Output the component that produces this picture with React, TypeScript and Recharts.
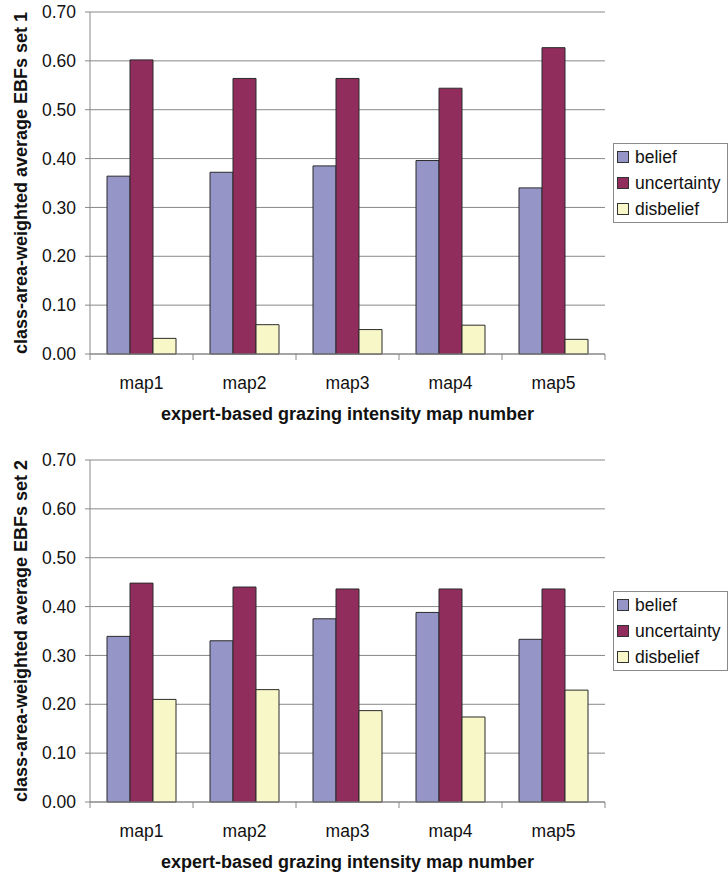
import React from 'react';
import { BarChart, Bar, XAxis, YAxis, CartesianGrid, Legend, Label } from 'recharts';

// Map categories and the three evidential belief function components per set
const categories = ['map1', 'map2', 'map3', 'map4', 'map5'];

const set1Belief = [0.364, 0.372, 0.385, 0.396, 0.340];
const set1Uncertainty = [0.602, 0.564, 0.564, 0.544, 0.627];
const set1Disbelief = [0.032, 0.060, 0.050, 0.059, 0.030];

const set2Belief = [0.339, 0.330, 0.375, 0.388, 0.333];
const set2Uncertainty = [0.448, 0.440, 0.436, 0.436, 0.436];
const set2Disbelief = [0.210, 0.230, 0.187, 0.174, 0.229];

const yTicks = [0, 0.1, 0.2, 0.3, 0.4, 0.5, 0.6, 0.7];

const seriesNames = ['belief', 'uncertainty', 'disbelief'];
const seriesColors = ['#9595C8', '#902D5D', '#F8F7C8'];

const xTitle = 'expert-based grazing intensity map number';

const FONT = '"Liberation Sans", Arial, sans-serif';
const AXIS = '#888888';
const FRAME = '#c8c8c8';
const FS = 17.5;
const TITLE_FS = 18;

type Row = { name: string; belief: number; uncertainty: number; disbelief: number };

const buildRows = (b: number[], u: number[], d: number[]): Row[] =>
  categories.map((name, i) => ({ name, belief: b[i], uncertainty: u[i], disbelief: d[i] }));

const CategoryTick = (props: any) => {
  const { x, y, payload } = props;
  const half = payload && typeof payload.offset === 'number' && payload.offset > 0 ? payload.offset : 51.5;
  const isLast = payload.value === categories[categories.length - 1];
  return (
    <g>
      <line x1={x - half} x2={x - half} y1={y} y2={y + 6} stroke={AXIS} strokeWidth={1} />
      {isLast && <line x1={x + half} x2={x + half} y1={y} y2={y + 6} stroke={AXIS} strokeWidth={1} />}
      <text x={x} y={y + 35} textAnchor="middle" fontFamily={FONT} fontSize={FS} fill="#111">
        {payload.value}
      </text>
    </g>
  );
};

const LegendBox = () => (
  <div
    style={{
      border: '1px solid #8a8a8a',
      background: '#fff',
      height: 80,
      boxSizing: 'border-box',
      fontFamily: FONT,
      fontSize: FS,
      color: '#111',
    }}
  >
    {seriesNames.map((n, i) => (
      <div key={n} style={{ height: 26, display: 'flex', alignItems: 'center' }}>
        <span
          style={{
            display: 'inline-block',
            width: 12,
            height: 12,
            boxSizing: 'border-box',
            border: '1px solid #333',
            background: seriesColors[i],
            marginLeft: 3,
            marginRight: 6,
          }}
        />
        <span style={{ whiteSpace: 'nowrap' }}>{n}</span>
      </div>
    ))}
  </div>
);

type PanelProps = {
  rows: Row[];
  yTitle: string;
  height: number;
  top: number;
  bottom: number;
};

const PLOT_H = 342;

const Panel = ({ rows, yTitle, height, top, bottom }: PanelProps) => (
  <BarChart
    width={728}
    height={height}
    data={rows}
    margin={{ top, right: 0, bottom, left: 0 }}
    barGap={0}
    barSize={23}
  >
    <CartesianGrid vertical={false} stroke={AXIS} strokeWidth={1} />
    <XAxis
      dataKey="name"
      height={75}
      axisLine={{ stroke: AXIS }}
      tickLine={false}
      tickSize={0}
      tickMargin={0}
      tick={<CategoryTick />}
      interval={0}
    >
      <Label
        content={(p: any) => {
          const vb = p.viewBox || {};
          return (
            <text
              x={vb.x + vb.width / 2}
              y={vb.y + 66}
              textAnchor="middle"
              fontFamily={FONT}
              fontSize={TITLE_FS}
              fontWeight="bold"
              fill="#111"
            >
              {xTitle}
            </text>
          );
        }}
      />
    </XAxis>
    <XAxis xAxisId="frame" dataKey="name" orientation="top" height={0} tick={false} tickLine={false} axisLine={{ stroke: FRAME }} />
    <YAxis
      type="number"
      domain={[0, 0.7]}
      ticks={yTicks}
      width={90}
      axisLine={{ stroke: AXIS }}
      tickLine={{ stroke: AXIS }}
      tickSize={5}
      tickMargin={9}
      tickFormatter={(v: number) => v.toFixed(2)}
      tick={{ fontFamily: FONT, fontSize: FS, fill: '#111' }}
    >
      <Label
        content={(p: any) => {
          const vb = p.viewBox || {};
          const cx = 27;
          const cy = vb.y + vb.height / 2;
          return (
            <text
              x={cx}
              y={cy}
              transform={`rotate(-90 ${cx} ${cy})`}
              textAnchor="middle"
              fontFamily={FONT}
              fontSize={TITLE_FS}
              fontWeight="bold"
              fill="#111"
            >
              {yTitle}
            </text>
          );
        }}
      />
    </YAxis>
    <YAxis
      yAxisId="frame"
      type="number"
      domain={[0, 0.7]}
      orientation="right"
      width={0}
      tick={false}
      tickLine={false}
      axisLine={{ stroke: FRAME }}
    />
    <Legend
      layout="vertical"
      align="right"
      verticalAlign="top"
      content={() => <LegendBox />}
      wrapperStyle={{
        top: top + PLOT_H / 2 - 40,
        right: 0,
        width: 123,
        paddingLeft: 8,
        boxSizing: 'border-box',
      }}
    />
    {seriesNames.map((n, i) => (
      <Bar
        key={n}
        dataKey={n}
        name={n}
        fill={seriesColors[i]}
        stroke="#2b2b2b"
        strokeWidth={1}
        isAnimationActive={false}
      />
    ))}
  </BarChart>
);

export default function App() {
  const rows1 = buildRows(set1Belief, set1Uncertainty, set1Disbelief);
  const rows2 = buildRows(set2Belief, set2Uncertainty, set2Disbelief);
  return (
    <div
      style={{
        position: 'absolute',
        left: 0,
        top: 0,
        width: 728,
        height: 877,
        background: '#fff',
        overflow: 'hidden',
      }}
    >
      <Panel rows={rows1} yTitle="class-area-weighted average EBFs set 1" height={440} top={12} bottom={11} />
      <Panel rows={rows2} yTitle="class-area-weighted average EBFs set 2" height={437} top={20} bottom={0} />
    </div>
  );
}
